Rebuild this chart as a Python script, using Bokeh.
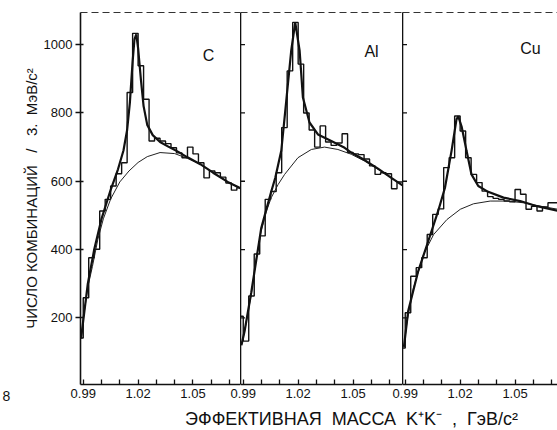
from bokeh.plotting import figure
from bokeh.layouts import column, row
from bokeh.models import FixedTicker, LinearAxis, Label, Range1d
from bokeh.core.properties import value
from bokeh.embed import file_html
from bokeh.resources import INLINE

# ---------------- data ----------------
mass_edges = [0.987, 0.990, 0.993, 0.996, 0.999, 1.002, 1.005, 1.008, 1.011, 1.014,
              1.017, 1.020, 1.023, 1.026, 1.029, 1.032, 1.035, 1.038, 1.041, 1.044,
              1.047, 1.050, 1.053, 1.056, 1.059, 1.062, 1.065, 1.068, 1.071, 1.074, 1.077]

c_counts = [141, 259, 376, 401, 513, 547, 586, 622, 654, 860,
            1033, 938, 840, 718, 726, 718, 710, 698, 683, 669,
            700, 680, 654, 610, 630, 625, 612, 595, 574, 581]
al_counts = [205, 132, 264, 387, 440, 547, 570, 625, 757, 923,
             1065, 943, 800, 750, 700, 762, 715, 705, 712, 739,
             684, 680, 678, 665, 645, 620, 625, 622, 578, 598]
cu_counts = [112, 215, 322, 347, 376, 444, 503, 519, 640, 669,
             791, 747, 669, 620, 596, 571, 555, 550, 547, 542,
             540, 576, 562, 518, 527, 513, 525, 537, 537]

c_bg_x = [0.9888, 0.9905, 0.9925, 0.995, 0.998, 1.001, 1.005, 1.010, 1.015, 1.020,
          1.025, 1.032, 1.040, 1.047, 1.054, 1.061, 1.069, 1.0765]
c_bg_y = [140, 215, 290, 350, 430, 490, 548, 598, 630, 655,
          672, 684, 681, 667, 650, 625, 598, 578]
c_fit_x = [0.9888, 0.9925, 0.996, 1.000, 1.005, 1.009, 1.012, 1.014, 1.0155, 1.017,
           1.018, 1.019, 1.020, 1.0215, 1.023, 1.025, 1.028, 1.032, 1.037, 1.042,
           1.047, 1.054, 1.061, 1.069, 1.0765]
c_fit_y = [140, 300, 400, 490, 575, 635, 690, 750, 830, 950,
           1015, 1030, 990, 900, 820, 765, 735, 715, 700, 686,
           670, 650, 625, 598, 578]

al_bg_x = [0.989, 0.9907, 0.9944, 0.997, 0.9998, 1.0025, 1.0053, 1.009, 1.0126, 1.0199,
           1.0272, 1.0344, 1.0417, 1.049, 1.0563, 1.0636, 1.0709, 1.077]
al_bg_y = [120, 160, 269, 370, 454, 510, 552, 590, 620, 669,
           693, 700, 693, 679, 659, 635, 610, 588]
al_fit_x = [0.989, 0.9907, 0.9944, 0.9998, 1.0053, 1.0075, 1.0108, 1.0135, 1.0162, 1.0184,
            1.0208, 1.0226, 1.0262, 1.0308, 1.0381, 1.0454, 1.049, 1.0563, 1.0636, 1.0709, 1.077]
al_fit_y = [120, 160, 275, 462, 570, 610, 690, 835, 982, 1065,
            982, 845, 772, 737, 718, 698, 684, 662, 637, 610, 588]

cu_bg_x = [0.9893, 0.991, 0.9945, 1.000, 1.0055, 1.0128, 1.0201, 1.0273, 1.0364, 1.0456,
           1.0546, 1.0638, 1.0735]
cu_bg_y = [115, 190, 288, 386, 444, 488, 518, 534, 542, 542,
           537, 527, 518]
cu_fit_x = [0.9893, 0.9916, 0.9971, 1.0026, 1.008, 1.0117, 1.0153, 1.018, 1.019, 1.0208,
            1.0235, 1.0262, 1.0299, 1.0346, 1.0437, 1.0528, 1.062, 1.0735]
cu_fit_y = [115, 220, 337, 425, 513, 581, 689, 781, 790, 760,
            689, 620, 586, 571, 552, 542, 527, 513]

x_major = [0.99, 1.02, 1.05]
x_major_labels = ["0.99", "1.02", "1.05"]
x_minor = [0.99, 1.00, 1.01, 1.02, 1.03, 1.04, 1.05, 1.06, 1.07]
y_ticks = [200, 400, 600, 800, 1000]

panel_names = ["C", "Al", "Cu"]

NB = "\u00a0"
y_label = "ЧИСЛО КОМБИНАЦИЙ" + NB * 3 + "/" + NB * 3 + "3." + NB * 2 + "МэВ/c²"
x_label = ("ЭФФЕКТИВНАЯ" + NB * 2 + "МАССА" + NB * 2 + "K⁺K⁻" + NB * 2 + "," + NB * 2 + "ГэВ/c²")
page_no = "8"

FONT = "Liberation Sans"
INK = "#111111"
X0 = 0.9885
ROW_H = 386
FULL_W = 557

# panel geometry: (frame left in page px, frame width px, x range end)
geom = [(80, 160, 1.0760), (240, 162, 1.0770), (402, 155, 1.0732)]


def make_panel(idx, counts, bg_x, bg_y, fit_x, fit_y, name, name_x, name_y):
    left, fw, x_end = geom[idx]
    first = idx == 0
    border_left = 80 if first else 0
    p = figure(width=fw + border_left, height=ROW_H, x_range=Range1d(X0, x_end),
               y_range=Range1d(5, 1094),
               output_backend="svg", toolbar_location=None,
               min_border_left=border_left, min_border_right=0, min_border_top=12,
               min_border_bottom=2)
    p.grid.visible = False
    p.outline_line_color = None

    xa = p.xaxis[0]
    xa.ticker = FixedTicker(ticks=[], minor_ticks=x_minor)
    xa.major_tick_in = 0
    xa.major_tick_out = 0
    xa.minor_tick_in = 5
    xa.minor_tick_out = 0
    xa.minor_tick_line_width = 1.3
    xa.minor_tick_line_color = INK
    xa.axis_line_width = 1.6
    xa.axis_line_color = INK
    xa.major_label_standoff = 0

    ya = p.yaxis[0]
    ya.minor_tick_line_color = None
    ya.axis_line_width = 1.6
    ya.axis_line_color = INK
    ya.major_tick_line_color = INK
    ya.major_tick_line_width = 1.3
    if first:
        ya.ticker = FixedTicker(ticks=y_ticks)
        ya.major_tick_in = 3
        ya.major_tick_out = 5
        ya.major_label_standoff = 3
        ya.major_label_text_font = FONT
        ya.major_label_text_font_size = "13px"
        ya.major_label_text_color = INK
        ya.axis_label = y_label
        ya.axis_label_text_font = FONT
        ya.axis_label_text_font_size = "15px"
        ya.axis_label_text_font_style = "normal"
        ya.axis_label_text_color = INK
        ya.axis_label_standoff = 1
    else:
        # axis line only; inward tick marks drawn as short dashes on the frame edge
        ya.ticker = FixedTicker(ticks=[])
        ya.major_tick_in = 0
        ya.major_tick_out = 0
        ya.major_label_standoff = 0
        p.scatter(x=[X0] * len(y_ticks), y=y_ticks, marker="dash", size=9,
                  line_color=INK, line_width=1.3)

    top = LinearAxis(ticker=FixedTicker(ticks=[]),
                     major_tick_in=0, major_tick_out=0, minor_tick_in=0, minor_tick_out=0,
                     major_label_standoff=0, axis_line_dash="7 4", axis_line_width=1.2,
                     axis_line_color="#333333")
    p.add_layout(top, "above")

    ys = counts + [counts[-1]]
    p.step(x=mass_edges[:len(ys)], y=ys, mode="after", line_color=INK, line_width=1.4)
    p.line(x=bg_x, y=bg_y, line_color="#222222", line_width=1.0)
    p.line(x=fit_x, y=fit_y, line_color=INK, line_width=2.2)

    p.add_layout(Label(x=name_x, y=name_y, text=name, text_font=FONT, text_font_size="16px",
                       text_color=INK, text_align="center", text_baseline="middle"))
    return p


p1 = make_panel(0, c_counts, c_bg_x, c_bg_y, c_fit_x, c_fit_y, panel_names[0], 1.0585, 968)
p2 = make_panel(1, al_counts, al_bg_x, al_bg_y, al_fit_x, al_fit_y, panel_names[1], 1.0601, 980)
p3 = make_panel(2, cu_counts, cu_bg_x, cu_bg_y, cu_fit_x, cu_fit_y, panel_names[2], 1.0584, 989)

# bottom strip: tick labels of all three panels (on the panels' own mass scales),
# the common axis title and the page number
BOT_H = 430 - ROW_H
p4 = figure(width=FULL_W, height=BOT_H, x_range=Range1d(0, FULL_W), y_range=Range1d(0, BOT_H),
            output_backend="svg", toolbar_location=None,
            min_border_left=0, min_border_right=0, min_border_top=0, min_border_bottom=0)
p4.axis.visible = False
p4.grid.visible = False
p4.outline_line_color = None
for i, (left, fw, x_end) in enumerate(geom):
    k = fw / (x_end - X0)
    start = X0 - left / k
    p4.extra_x_ranges["m%d" % i] = Range1d(start, start + FULL_W / k)
    p4.text(x=x_major, y=[BOT_H - 7] * len(x_major), text=x_major_labels, x_range_name="m%d" % i,
            text_font=value(FONT), text_font_size=value("13px"), text_color=INK,
            text_align="center", text_baseline="middle")
p4.add_layout(Label(x=351, y=12, text=x_label, text_font=FONT, text_font_size="18px",
                    text_color=INK, text_align="center", text_baseline="middle"))
p4.add_layout(Label(x=2, y=BOT_H - 9, text=page_no, text_font=FONT, text_font_size="14px",
                    text_color=INK, text_align="left", text_baseline="middle"))

layout = column(row(p1, p2, p3, spacing=0), p4, spacing=0)

with open("out.html", "w") as f:
    f.write(file_html(layout, INLINE))
